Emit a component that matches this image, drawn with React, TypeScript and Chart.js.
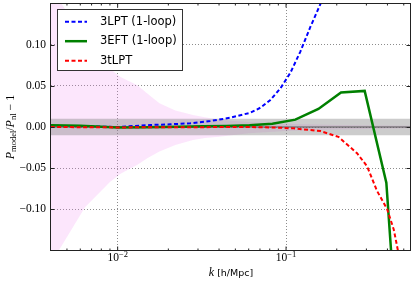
import React, { useEffect, useRef } from "react";
import { Chart, registerables } from "chart.js";

Chart.register(...registerables);

// ---- data ----
const kRange = [0.00402, 0.552];
const vRange = [-0.15, 0.15];
const refBand = 0.01;

const kBand = [0.004, 0.0044, 0.0064, 0.009, 0.0104, 0.0131, 0.015, 0.0177, 0.022, 0.028, 0.033, 0.04, 0.06, 0.1, 0.2, 0.55];
const bandUpper = [0.175, 0.158, 0.105, 0.071, 0.061, 0.051, 0.041, 0.029, 0.02, 0.0145, 0.012, 0.0088, 0.006, 0.004, 0.0025, 0.0015];
const bandLower = [-0.17, -0.153, -0.098, -0.067, -0.057, -0.046, -0.038, -0.03, -0.022, -0.016, -0.0135, -0.012, -0.0075, -0.005, -0.003, -0.0015];

const kLPT = [0.004, 0.006, 0.01, 0.0156, 0.0206, 0.027, 0.0355, 0.0467, 0.0614, 0.0704, 0.0807, 0.0925, 0.106, 0.1216, 0.1394, 0.16, 0.18];
const vLPT = [0.0015, 0.001, 0.0, 0.0024, 0.0033, 0.0045, 0.0073, 0.0113, 0.0174, 0.0235, 0.033, 0.047, 0.066, 0.092, 0.122, 0.15, 0.19];

const kEFT = [0.004, 0.006, 0.01, 0.015, 0.0232, 0.0322, 0.0442, 0.0607, 0.083, 0.1135, 0.1556, 0.212, 0.293, 0.394, 0.43];
const vEFT = [0.0022, 0.0015, -0.0005, -0.0003, 0.0003, 0.0008, 0.0012, 0.0022, 0.004, 0.009, 0.022, 0.042, 0.044, -0.068, -0.18];

const kTLPT = [0.004, 0.01, 0.03, 0.06, 0.0807, 0.1105, 0.16, 0.2046, 0.264, 0.303, 0.347, 0.398, 0.436, 0.46, 0.48];
const vTLPT = [0.0, -0.0005, -0.0002, 0.0, -0.0005, -0.0016, -0.005, -0.012, -0.032, -0.048, -0.078, -0.1, -0.125, -0.149, -0.17];

const seriesLabels = ["3LPT (1-loop)", "3EFT (1-loop)", "3tLPT"];
const seriesColors = ["#0000ff", "#008000", "#ff0000"];

const yTicks = [-0.1, -0.05, 0.0, 0.05, 0.1];
const xMajor = [0.01, 0.1];
const xMinor = [0.005, 0.006, 0.007, 0.008, 0.009, 0.02, 0.03, 0.04, 0.05, 0.06, 0.07, 0.08, 0.09, 0.2, 0.3, 0.4, 0.5];

const zip = (ks: number[], vs: number[]) => ks.map((k, i) => ({ x: k, y: vs[i] }));

const SERIF = '"Liberation Serif", serif';
const SANS = '"DejaVu Sans", sans-serif';

type Seg = { text: string; font: string; dy?: number };

function drawRich(ctx: CanvasRenderingContext2D, segs: Seg[], cx: number, baseline: number) {
  let total = 0;
  const widths = segs.map((s) => {
    ctx.font = s.font;
    const w = ctx.measureText(s.text).width;
    total += w;
    return w;
  });
  let xx = cx - total / 2;
  ctx.textAlign = "left";
  ctx.textBaseline = "alphabetic";
  segs.forEach((s, i) => {
    ctx.font = s.font;
    ctx.fillText(s.text, xx, baseline + (s.dy || 0));
    xx += widths[i];
  });
}

const decorPlugin = {
  id: "decor",
  afterDraw(chart: any) {
    const { ctx, chartArea, scales } = chart;
    const { left, right, top, bottom } = chartArea;
    const x = scales.x;
    const y = scales.y;
    ctx.save();
    const L = Math.round(left) - 0.5;
    const R = Math.round(right) - 0.5;
    const T = Math.round(top) - 0.5;
    const B = Math.round(bottom) + 0.5;

    // frame
    ctx.strokeStyle = "#222";
    ctx.lineWidth = 1;
    ctx.setLineDash([]);
    ctx.strokeRect(L, T, R - L, B - T);

    // ticks (inward)
    ctx.beginPath();
    for (const v of xMajor) {
      const px = x.getPixelForValue(v);
      ctx.moveTo(px, B); ctx.lineTo(px, B - 4);
      ctx.moveTo(px, T); ctx.lineTo(px, T + 4);
    }
    for (const v of xMinor) {
      const px = x.getPixelForValue(v);
      ctx.moveTo(px, B); ctx.lineTo(px, B - 2);
      ctx.moveTo(px, T); ctx.lineTo(px, T + 2);
    }
    for (const v of yTicks) {
      const py = Math.round(y.getPixelForValue(v)) + 0.5;
      ctx.moveTo(L, py); ctx.lineTo(L + 4, py);
      ctx.moveTo(R, py); ctx.lineTo(R - 4, py);
    }
    ctx.stroke();

    // x tick labels 10^n
    ctx.fillStyle = "#000";
    for (const v of xMajor) {
      const px = x.getPixelForValue(v);
      const e = Math.round(Math.log10(v));
      const expText = (e < 0 ? "\u2212" : "") + String(Math.abs(e));
      drawRich(ctx, [
        { text: "10", font: `11.5px ${SERIF}` },
        { text: expText, font: `8.5px ${SERIF}`, dy: -4.5 },
      ], px, 261);
    }

    // x axis title
    drawRich(ctx, [
      { text: "k", font: `italic 12px ${SERIF}` },
      { text: " [h/Mpc]", font: `9.5px ${SANS}` },
    ], (left + right) / 2, 276);

    // y axis title
    ctx.save();
    ctx.translate(13.5, (top + bottom) / 2);
    ctx.rotate(-Math.PI / 2);
    drawRich(ctx, [
      { text: "P", font: `italic 12px ${SERIF}` },
      { text: "model", font: `8.5px ${SERIF}`, dy: 2.5 },
      { text: "/", font: `12px ${SERIF}` },
      { text: "P", font: `italic 12px ${SERIF}` },
      { text: "nl", font: `8.5px ${SERIF}`, dy: 2.5 },
      { text: " \u2212 1", font: `12px ${SERIF}` },
    ], 0, 0);
    ctx.restore();

    // legend
    const bx = 57.5, by = 9.5, bw = 125, bh = 61;
    ctx.fillStyle = "#fff";
    ctx.fillRect(bx, by, bw, bh);
    ctx.strokeStyle = "#333";
    ctx.lineWidth = 1;
    ctx.strokeRect(bx, by, bw, bh);
    const rows = [21.7, 41.2, 60.7];
    const dsIdx = [5, 6, 7];
    rows.forEach((ry, i) => {
      const ds = chart.data.datasets[dsIdx[i]];
      ctx.beginPath();
      ctx.strokeStyle = ds.borderColor;
      ctx.lineWidth = ds.borderWidth;
      ctx.setLineDash(ds.borderDash || []);
      ctx.moveTo(65, ry);
      ctx.lineTo(87, ry);
      ctx.stroke();
      ctx.setLineDash([]);
      ctx.fillStyle = "#000";
      ctx.font = `11.5px ${SANS}`;
      ctx.textAlign = "left";
      ctx.textBaseline = "middle";
      ctx.fillText(ds.label, 100, ry);
    });

    ctx.restore();
  },
};

export default function App() {
  const ref = useRef<HTMLCanvasElement | null>(null);

  useEffect(() => {
    if (!ref.current) return;
    const lineBase = { pointRadius: 0, tension: 0, clip: 0 as any };
    const chart = new Chart(ref.current, {
      type: "line",
      data: {
        datasets: [
          { ...lineBase, label: "bandU", data: zip(kBand, bandUpper), borderWidth: 0, borderColor: "transparent", backgroundColor: "rgba(238,130,238,0.2)", fill: "+1", order: 10 },
          { ...lineBase, label: "bandL", data: zip(kBand, bandLower), borderWidth: 0, borderColor: "transparent", fill: false, order: 10 },
          { ...lineBase, label: "refU", data: zip(kRange, [refBand, refBand]), borderWidth: 0, borderColor: "transparent", backgroundColor: "rgba(128,128,128,0.4)", fill: "+1", order: 9 },
          { ...lineBase, label: "refL", data: zip(kRange, [-refBand, -refBand]), borderWidth: 0, borderColor: "transparent", fill: false, order: 9 },
          { ...lineBase, label: "zero", data: zip(kRange, [0, 0]), borderWidth: 1, borderColor: "#555", fill: false, order: 8 },
          { ...lineBase, label: seriesLabels[0], data: zip(kLPT, vLPT), borderWidth: 2, borderColor: seriesColors[0], borderDash: [4, 2.5], fill: false, order: 3 },
          { ...lineBase, label: seriesLabels[1], data: zip(kEFT, vEFT), borderWidth: 2.5, borderColor: seriesColors[1], fill: false, order: 2 },
          { ...lineBase, label: seriesLabels[2], data: zip(kTLPT, vTLPT), borderWidth: 2, borderColor: seriesColors[2], borderDash: [4, 2.5], fill: false, order: 1 },
        ] as any,
      },
      options: {
        responsive: false,
        animation: false,
        layout: { padding: { left: 0, right: 2, top: 4, bottom: 0 } },
        plugins: { legend: { display: false }, tooltip: { enabled: false } },
        scales: {
          x: {
            type: "logarithmic",
            min: kRange[0],
            max: kRange[1],
            ticks: { display: false },
            grid: { drawTicks: false, color: "rgba(0,0,0,0.45)", lineWidth: 1 },
            border: { display: false, dash: [1, 2] },
            afterBuildTicks: (scale: any) => {
              scale.ticks = xMajor.map((v) => ({ value: v }));
            },
            afterFit: (scale: any) => {
              scale.height = 32;
              scale.paddingLeft = 0;
              scale.paddingRight = 0;
            },
          } as any,
          y: {
            type: "linear",
            min: vRange[0],
            max: vRange[1],
            ticks: {
              padding: 5,
              color: "#000",
              font: { family: "Liberation Serif", size: 11.5 },
              callback: (v: any) => {
                const n = Number(v);
                const s = Math.abs(n).toFixed(2);
                return n < -1e-9 ? "\u2212" + s : s;
              },
            },
            grid: { drawTicks: false, color: "rgba(0,0,0,0.45)", lineWidth: 1 },
            border: { display: false, dash: [1, 2] },
            afterBuildTicks: (scale: any) => {
              scale.ticks = yTicks.map((v) => ({ value: v }));
            },
            afterFit: (scale: any) => {
              scale.width = 51;
              scale.paddingTop = 0;
              scale.paddingBottom = 0;
            },
          } as any,
        },
      },
      plugins: [decorPlugin as any],
    });
    return () => chart.destroy();
  }, []);

  return (
    <div style={{ position: "absolute", left: 0, top: 0, width: 413, height: 282, background: "#fff" }}>
      <canvas ref={ref} width={413} height={282} style={{ display: "block" }} />
    </div>
  );
}
